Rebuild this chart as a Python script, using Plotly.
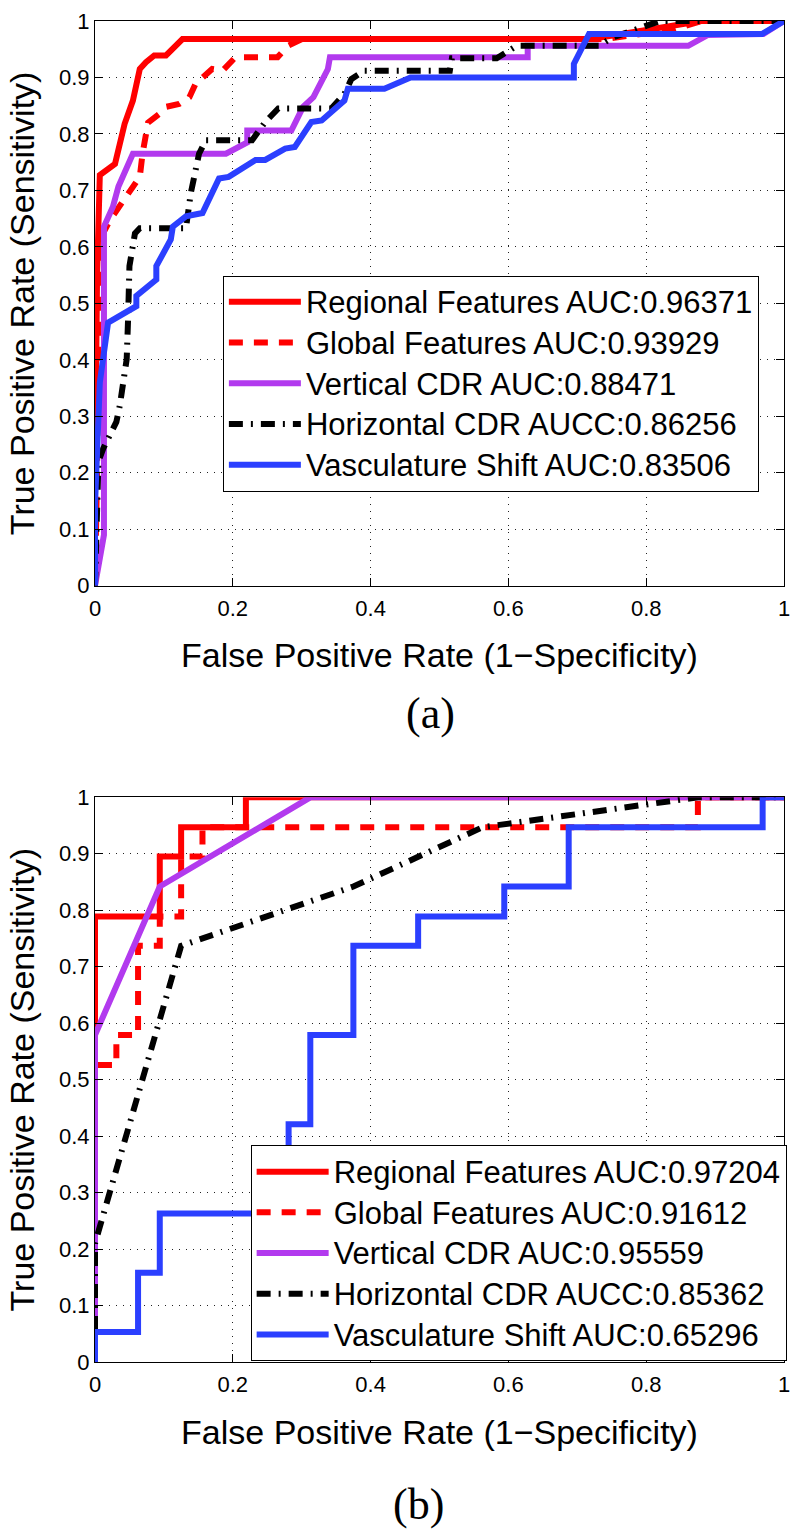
import plotly.graph_objects as go

# ---------------- data: panel (a) ----------------
a_regional_x = [0, 0, 0.003, 0.007, 0.029, 0.034, 0.043, 0.055, 0.065, 0.074, 0.086, 0.103, 0.127, 0.72, 0.80, 0.88, 1.0]
a_regional_y = [0, 0.18, 0.55, 0.727, 0.747, 0.771, 0.818, 0.859, 0.915, 0.927, 0.939, 0.939, 0.968, 0.968, 0.985, 1.0, 1.0]

a_global_x = [0, 0.003, 0.005, 0.007, 0.022, 0.055, 0.065, 0.069, 0.074, 0.077, 0.094, 0.103, 0.122, 0.137, 0.146, 0.17, 0.185, 0.204, 0.265, 0.28, 0.30, 0.74, 0.84, 0.88, 1.0]
a_global_y = [0, 0.2, 0.5, 0.613, 0.648, 0.707, 0.724, 0.765, 0.806, 0.82, 0.836, 0.848, 0.853, 0.865, 0.889, 0.915, 0.912, 0.936, 0.936, 0.956, 0.968, 0.968, 0.985, 1.0, 1.0]

a_vertical_x = [0, 0.013, 0.013, 0.026, 0.034, 0.055, 0.19, 0.221, 0.221, 0.285, 0.302, 0.317, 0.338, 0.341, 0.628, 0.628, 0.861, 0.889, 0.97, 1.0]
a_vertical_y = [0, 0.09, 0.636, 0.671, 0.707, 0.765, 0.765, 0.785, 0.806, 0.806, 0.848, 0.865, 0.915, 0.936, 0.936, 0.956, 0.956, 0.975, 0.977, 1.0]

a_horizontal_x = [0, 0.005, 0.012, 0.031, 0.036, 0.046, 0.048, 0.05, 0.058, 0.065, 0.132, 0.139, 0.151, 0.161, 0.228, 0.247, 0.266, 0.343, 0.362, 0.372, 0.391, 0.515, 0.518, 0.583, 0.612, 0.731, 0.75, 0.80, 0.82, 1.0]
a_horizontal_y = [0, 0.22, 0.243, 0.29, 0.319, 0.401, 0.472, 0.566, 0.624, 0.633, 0.633, 0.695, 0.765, 0.789, 0.789, 0.821, 0.845, 0.845, 0.871, 0.897, 0.912, 0.912, 0.934, 0.934, 0.956, 0.956, 0.97, 0.99, 1.0, 1.0]

a_vascular_x = [0, 0, 0.007, 0.019, 0.06, 0.06, 0.089, 0.089, 0.110, 0.113, 0.132, 0.156, 0.18, 0.194, 0.233, 0.247, 0.276, 0.29, 0.314, 0.329, 0.362, 0.367, 0.42, 0.458, 0.695, 0.695, 0.717, 0.968, 1.0]
a_vascular_y = [0, 0.143, 0.36, 0.466, 0.495, 0.513, 0.542, 0.566, 0.613, 0.636, 0.654, 0.66, 0.721, 0.724, 0.754, 0.754, 0.774, 0.777, 0.821, 0.824, 0.859, 0.88, 0.88, 0.9, 0.9, 0.924, 0.977, 0.977, 1.0]

a_names = ["Regional Features AUC:0.96371", "Global Features AUC:0.93929",
           "Vertical CDR AUC:0.88471", "Horizontal CDR AUCC:0.86256",
           "Vasculature Shift AUC:0.83506"]

# ---------------- data: panel (b) ----------------
b_regional_x = [0, 0, 0.094, 0.094, 0.125, 0.125, 0.219, 0.219, 1.0]
b_regional_y = [0, 0.789, 0.789, 0.895, 0.895, 0.947, 0.947, 1.0, 1.0]

b_global_x = [0, 0, 0.031, 0.031, 0.0625, 0.0625, 0.094, 0.094, 0.125, 0.125, 0.156, 0.156, 0.875, 0.875, 1.0]
b_global_y = [0, 0.526, 0.526, 0.579, 0.579, 0.737, 0.737, 0.789, 0.789, 0.895, 0.895, 0.947, 0.947, 1.0, 1.0]

b_vertical_x = [0, 0, 0.094, 0.3125, 1.0]
b_vertical_y = [0, 0.579, 0.842, 1.0, 1.0]

b_horizontal_x = [0, 0, 0.125, 0.375, 0.5625, 0.875, 1.0]
b_horizontal_y = [0, 0.21, 0.737, 0.842, 0.947, 1.0, 1.0]

b_vascular_x = [0, 0, 0.0625, 0.0625, 0.094, 0.094, 0.281, 0.281, 0.3125, 0.3125, 0.375, 0.375, 0.469, 0.469, 0.594, 0.594, 0.6875, 0.6875, 0.969, 0.969, 1.0]
b_vascular_y = [0, 0.053, 0.053, 0.158, 0.158, 0.263, 0.263, 0.421, 0.421, 0.579, 0.579, 0.737, 0.737, 0.789, 0.789, 0.842, 0.842, 0.947, 0.947, 1.0, 1.0]

b_names = ["Regional Features AUC:0.97204", "Global Features AUC:0.91612",
           "Vertical CDR AUC:0.95559", "Horizontal CDR AUCC:0.85362",
           "Vasculature Shift AUC:0.65296"]

x_tickvals = [0, 0.2, 0.4, 0.6, 0.8, 1.0]
x_ticktext = ["0", "0.2", "0.4", "0.6", "0.8", "1"]
y_tickvals = [0, 0.1, 0.2, 0.3, 0.4, 0.5, 0.6, 0.7, 0.8, 0.9, 1.0]
y_ticktext = ["0", "0.1", "0.2", "0.3", "0.4", "0.5", "0.6", "0.7", "0.8", "0.9", "1"]

x_title = "False Positive Rate (1\u2212Specificity)"
y_title = "True Positive Rate (Sensitivity)"
captions = ["(a)", "(b)"]

# ---------------- styles ----------------
colors = ["#FF0000", "#FF0000", "#B23AEE", "#000000", "#2B3FFF"]
dashes = ["solid", "14px,11px", "solid", "14px,8px,2px,8px", "solid"]
LW = 6
SANS = "Liberation Sans, Arial, Helvetica, sans-serif"
SERIF = "Liberation Serif, Times New Roman, serif"
LEGEND_TEXT_PX = 31

fig = go.Figure()

panels = [
    ([a_regional_x, a_global_x, a_vertical_x, a_horizontal_x, a_vascular_x],
     [a_regional_y, a_global_y, a_vertical_y, a_horizontal_y, a_vascular_y],
     a_names, "x", "y", "legend"),
    ([b_regional_x, b_global_x, b_vertical_x, b_horizontal_x, b_vascular_x],
     [b_regional_y, b_global_y, b_vertical_y, b_horizontal_y, b_vascular_y],
     b_names, "x2", "y2", "legend2"),
]
for xs, ys, names, xa, ya, lg in panels:
    for i in range(5):
        fig.add_trace(go.Scatter(
            x=xs[i], y=ys[i], mode="lines",
            name='<span style="font-size:%dpx">%s</span>' % (LEGEND_TEXT_PX, names[i]),
            line=dict(color=colors[i], width=LW, dash=dashes[i]),
            xaxis=xa, yaxis=ya, legend=lg, hoverinfo="skip"))

def xaxis(anchor):
    return dict(range=[0, 1], domain=[0, 1], anchor=anchor,
                tickvals=x_tickvals, ticktext=x_ticktext,
                showline=True, linecolor="black", linewidth=1, mirror="ticks",
                ticks="inside", ticklen=8, tickcolor="black",
                showgrid=True, gridcolor="#222222", gridwidth=1, griddash="1px,6px",
                zeroline=False, ticklabelstandoff=3, ticklabeloverflow="allow",
                tickfont=dict(family=SANS, size=22, color="black"),
                title=dict(text=x_title, font=dict(family=SANS, size=34, color="black"), standoff=23))

def yaxis(anchor, dom):
    return dict(range=[0, 1], domain=dom, anchor=anchor,
                tickvals=y_tickvals, ticktext=y_ticktext,
                showline=True, linecolor="black", linewidth=1, mirror="ticks",
                ticks="inside", ticklen=8, tickcolor="black",
                showgrid=True, gridcolor="#222222", gridwidth=1, griddash="1px,6px",
                zeroline=False, ticklabeloverflow="allow",
                tickfont=dict(family=SANS, size=22, color="black"),
                title=dict(text=y_title, font=dict(family=SANS, size=34, color="black"), standoff=14))

legend_common = dict(bgcolor="white", bordercolor="black", borderwidth=1,
                     font=dict(family=SANS, size=29, color="black"),
                     xanchor="left", yanchor="top", itemwidth=72,
                     tracegroupgap=0)

fig.update_layout(
    width=799, height=1530,
    margin=dict(l=95, r=9, t=13, b=168),
    paper_bgcolor="white", plot_bgcolor="white",
    showlegend=True,
    xaxis=xaxis("y"), yaxis=yaxis("x", [0.5789, 1.0]),
    xaxis2=xaxis("y2"), yaxis2=yaxis("x2", [0.0, 0.4211]),
    legend=dict(legend_common, x=0.1856, y=0.8102),
    legend2=dict(legend_common, x=0.2259, y=0.1616),
    annotations=[
        dict(text=captions[0], xref="paper", yref="paper", x=0.4863, y=0.4833,
             xanchor="center", yanchor="middle", showarrow=False,
             font=dict(family=SERIF, size=44, color="black")),
        dict(text=captions[1], xref="paper", yref="paper", x=0.469, y=-0.106,
             xanchor="center", yanchor="middle", showarrow=False,
             font=dict(family=SERIF, size=44, color="black")),
    ],
)

fig.write_html("out.html",
               config={"displayModeBar": False, "staticPlot": True},
               post_script="document.body.style.margin='0';document.body.style.overflow='hidden';")
